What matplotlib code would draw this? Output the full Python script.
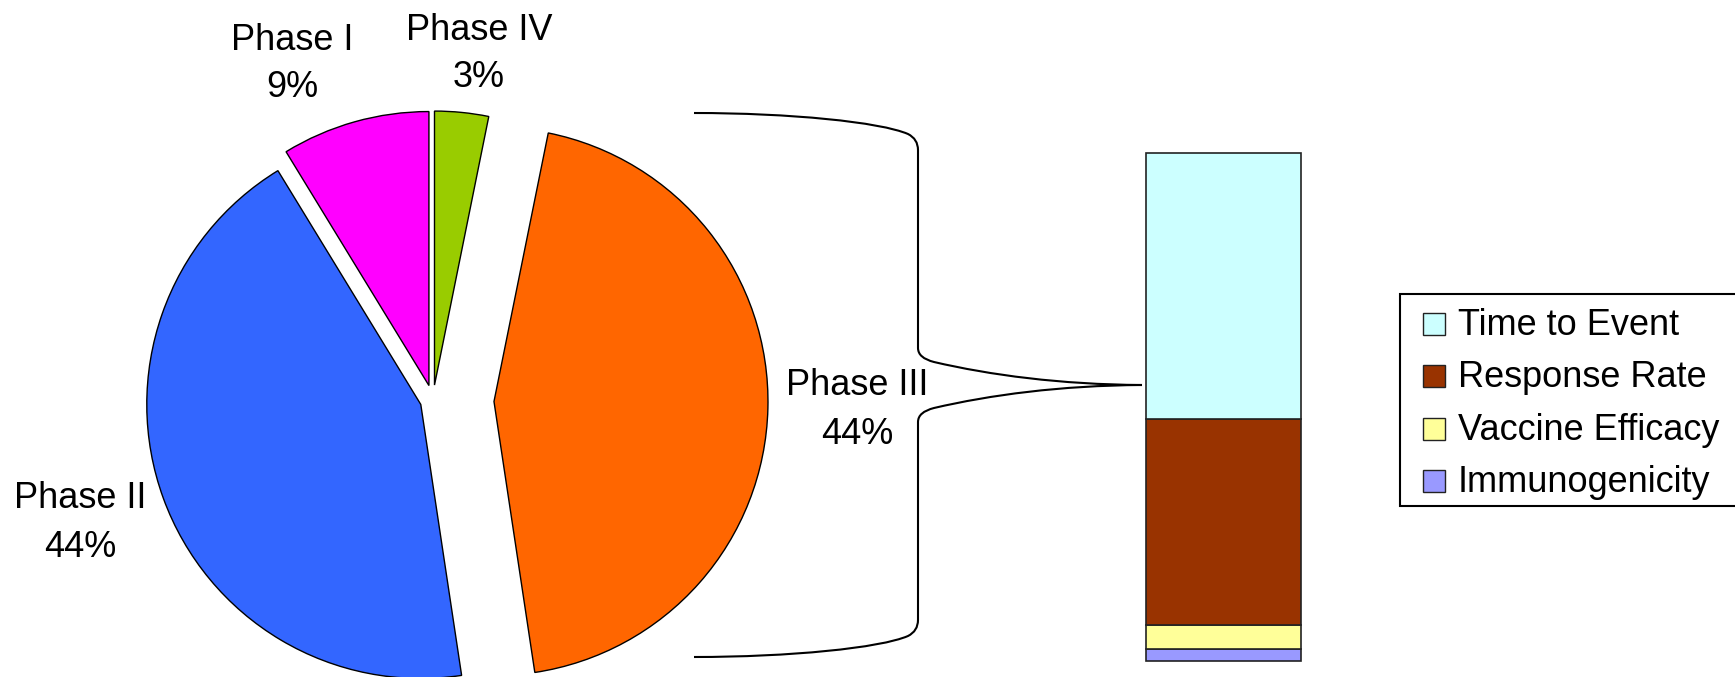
import matplotlib
matplotlib.use("Agg")
import matplotlib.pyplot as plt
import numpy as np
from matplotlib.path import Path
from matplotlib.patches import PathPatch, Rectangle

# Number of trials by phase (drawn clockwise from 12 o'clock)
phases = ["Phase IV", "Phase III", "Phase II", "Phase I"]
phase_counts = [4, 56, 55, 11]
phase_colors = ["#99CC00", "#FF6600", "#3366FF", "#FF00FF"]

# Phase III primary endpoints (stacked bottom to top)
endpoints = ["Immunogenicity", "Vaccine Efficacy", "Response Rate", "Time to Event"]
endpoint_counts = [1, 2, 17, 22]
endpoint_colors = ["#9999FF", "#FFFF99", "#993300", "#CCFFFF"]

W, H = 1735, 677
FS = 26
plt.rcParams["font.family"] = ["Liberation Sans", "DejaVu Sans"]

fig = plt.figure(figsize=(W / 100, H / 100), dpi=100)
ax = fig.add_axes([0, 0, 1, 1])


def py(y):
    """Convert a top-down pixel row to the axes' bottom-up units."""
    return H - y


# --- pie, in pixel-sized data units -------------------------------------
explode = [15, 61, 13, 15]
ax.pie(phase_counts, explode=explode, colors=phase_colors, startangle=90,
       counterclock=False, center=(433, py(400)), radius=274,
       wedgeprops=dict(edgecolor="black", linewidth=1.0))
ax.set_xlim(0, W)
ax.set_ylim(0, H)
ax.set_aspect("equal")
ax.axis("off")

# label placement: x centre, baseline of name, baseline of percentage
label_pos = {
    "Phase I": (292, 50, 97),
    "Phase IV": (479, 40, 87),
    "Phase II": (80, 508, 557),
    "Phase III": (857, 395, 444),
}
total = sum(phase_counts)
for name, n in zip(phases, phase_counts):
    x, y1, y2 = label_pos[name]
    ax.text(x, py(y1), name, ha="center", va="baseline", fontsize=FS)
    ax.text(x, py(y2), f"{round(100 * n / total)}%", ha="center",
            va="baseline", fontsize=FS)

# --- connector bracket from the Phase III slice to the bar ---------------
pts = [
    ((694, 113), Path.MOVETO),
    ((790, 113), Path.CURVE4), ((880, 122), Path.CURVE4), ((908, 134), Path.CURVE4),
    ((918, 139), Path.CURVE3), ((918, 150), Path.CURVE3),
    ((918, 348), Path.LINETO),
    ((918, 358), Path.CURVE3), ((934, 362), Path.CURVE3),
    ((990, 375), Path.CURVE4), ((1060, 384.5), Path.CURVE4), ((1142, 385), Path.CURVE4),
    ((1060, 385.5), Path.CURVE4), ((990, 395), Path.CURVE4), ((934, 408), Path.CURVE4),
    ((918, 412), Path.CURVE3), ((918, 422), Path.CURVE3),
    ((918, 620), Path.LINETO),
    ((918, 631), Path.CURVE3), ((908, 636), Path.CURVE3),
    ((880, 648), Path.CURVE4), ((790, 657), Path.CURVE4), ((694, 657), Path.CURVE4),
]
verts = [(x, py(y)) for (x, y), _ in pts]
codes = [c for _, c in pts]
ax.add_patch(PathPatch(Path(verts, codes), facecolor="none",
                       edgecolor="black", linewidth=1.5))

# --- stacked bar ---------------------------------------------------------
bax = fig.add_axes([1146 / W, (H - 661) / H, 155 / W, 508 / H])
bottoms = np.concatenate([[0], np.cumsum(endpoint_counts)[:-1]])
bars = bax.bar(0, endpoint_counts, bottom=bottoms, width=1.0,
               color=endpoint_colors, edgecolor="#222222", linewidth=1.2)
for b in bars:
    b.set_clip_on(False)
bax.set_xlim(-0.5, 0.5)
bax.set_ylim(0, sum(endpoint_counts))
bax.axis("off")

# --- legend box ----------------------------------------------------------
ax.add_patch(Rectangle((1400, py(506)), 360, 212, facecolor="white",
                       edgecolor="black", linewidth=1.5))
row_top, row_step, sq = 313, 52.3, 22
for i, (name, col) in enumerate(zip(endpoints[::-1], endpoint_colors[::-1])):
    top = row_top + i * row_step
    ax.add_patch(Rectangle((1423, py(top + sq)), sq, sq, facecolor=col,
                           edgecolor="#222222", linewidth=1.0))
    ax.text(1458, py(top + sq), name, ha="left", va="baseline", fontsize=FS)

fig.savefig("out.png", dpi=100)
